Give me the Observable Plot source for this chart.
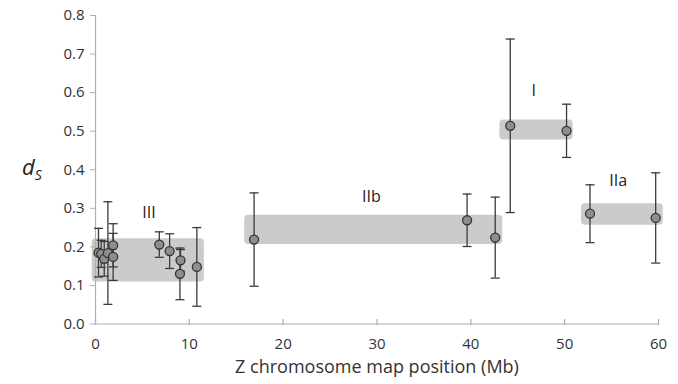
<!DOCTYPE html>
<html>
<head>
<meta charset="utf-8">
<script src="https://cdn.jsdelivr.net/npm/d3@7"></script>
<script src="https://cdn.jsdelivr.net/npm/@observablehq/plot@0.6"></script>
<style>
  html, body { margin: 0; padding: 0; background: #fff; }
  #chart { width: 678px; height: 384px; }
</style>
</head>
<body>
<div id="chart"></div>
<script>
// Gene positions on Z chromosome (Mb), dS estimates and error (half-width)
const positions = [0.32, 0.61, 0.93, 1.32, 1.88, 1.88, 6.8, 7.9, 9.06, 9.0, 10.8, 16.9, 39.6, 42.6, 44.2, 50.2, 52.7, 59.7];
const dsValues  = [0.185, 0.182, 0.169, 0.184, 0.204, 0.174, 0.206, 0.189, 0.165, 0.130, 0.148, 0.219, 0.269, 0.224, 0.514, 0.501, 0.286, 0.275];
const dsErrors  = [0.063, 0.035, 0.045, 0.133, 0.056, 0.061, 0.033, 0.045, 0.028, 0.067, 0.102, 0.121, 0.068, 0.105, 0.225, 0.069, 0.075, 0.117];

// Strata (shaded regions)
const strataNames = ["III", "IIb", "I", "IIa"];
const strataStart = [-0.35, 15.9, 43.1, 51.8];
const strataEnd   = [11.6, 43.4, 50.9, 60.5];
const strataLow   = [0.109, 0.206, 0.477, 0.256];
const strataHigh  = [0.221, 0.282, 0.529, 0.312];
const labelX      = [5.7, 29.4, 46.7, 55.7];
const labelY      = [0.289, 0.329, 0.605, 0.371];

const xTicks = [0, 10, 20, 30, 40, 50, 60];
const yTicks = [0, 0.1, 0.2, 0.3, 0.4, 0.5, 0.6, 0.7, 0.8];
const xTitle = "Z chromosome map position (Mb)";

const points = positions.map((p, i) => ({pos: p, ds: dsValues[i], lo: dsValues[i] - dsErrors[i], hi: dsValues[i] + dsErrors[i]}));
const strata = strataNames.map((n, i) => ({name: n, x1: strataStart[i], x2: strataEnd[i], y1: strataLow[i], y2: strataHigh[i], lx: labelX[i], ly: labelY[i]}));

const capSymbol = {draw(ctx, size) { const r = Math.sqrt(size / Math.PI); ctx.moveTo(-r, 0); ctx.lineTo(r, 0); }};
const tickUpSymbol = {draw(ctx, size) { const r = Math.sqrt(size / Math.PI); ctx.moveTo(0, 1); ctx.lineTo(0, -r); }};

const font = "'Open Sans', 'Liberation Sans', sans-serif";

const chart = Plot.plot({
  width: 678,
  height: 384,
  marginLeft: 95,
  marginRight: 20,
  marginTop: 15,
  marginBottom: 60.5,
  style: {fontFamily: font, fontSize: "15px", color: "#333", background: "#fff"},
  x: {domain: [0, 60], ticks: xTicks},
  y: {domain: [0, 0.8], ticks: yTicks},
  marks: [
    Plot.rect(strata, {x1: "x1", x2: "x2", y1: "y1", y2: "y2", fill: "#cbcbcb", rx: 4}),
    Plot.ruleX([0], {stroke: "#b0b0b0", strokeWidth: 1.2}),
    Plot.ruleY([0], {stroke: "#b0b0b0", strokeWidth: 1.2}),
    Plot.axisY({ticks: yTicks, tickFormat: d3.format(".1f"), tickSize: 5, tickPadding: 6, label: null, stroke: "#b0b0b0", fill: "#333", fontSize: 15}),
    Plot.axisX({ticks: xTicks, tickSize: 0, tickPadding: 14, label: null, fill: "#333", fontSize: 15}),
    Plot.dot(xTicks, {x: d => d, y: 0, symbol: tickUpSymbol, r: 5, stroke: "#b0b0b0", strokeWidth: 1.2}),
    Plot.ruleX(points, {x: "pos", y1: "lo", y2: "hi", stroke: "#3a3a3a", strokeWidth: 1.3}),
    Plot.dot(points, {x: "pos", y: "hi", symbol: capSymbol, r: 4.5, stroke: "#3a3a3a", strokeWidth: 1.3}),
    Plot.dot(points, {x: "pos", y: "lo", symbol: capSymbol, r: 4.5, stroke: "#3a3a3a", strokeWidth: 1.3}),
    Plot.dot(points, {x: "pos", y: "ds", r: 4.5, fill: "#8e8e8e", stroke: "#333", strokeWidth: 1.3}),
    Plot.text(strata, {x: "lx", y: "ly", text: "name", fontSize: 16, fill: "#222", fontFamily: font}),
    Plot.text([xTitle], {frameAnchor: "bottom", dy: 49, text: d => d, fontSize: 18, fill: "#333", fontFamily: font})
  ]
});

// Italic y-axis label "d" with subscript "S"
const svg = d3.select(chart);
const lab = svg.append("text")
  .attr("x", 32).attr("y", 175)
  .attr("font-family", font)
  .attr("font-style", "italic")
  .attr("fill", "#222");
lab.append("tspan").attr("font-size", 22).text("d");
lab.append("tspan").attr("font-size", 14).attr("dy", 5).text("S");

document.getElementById("chart").appendChild(chart);
</script>
</body>
</html>
